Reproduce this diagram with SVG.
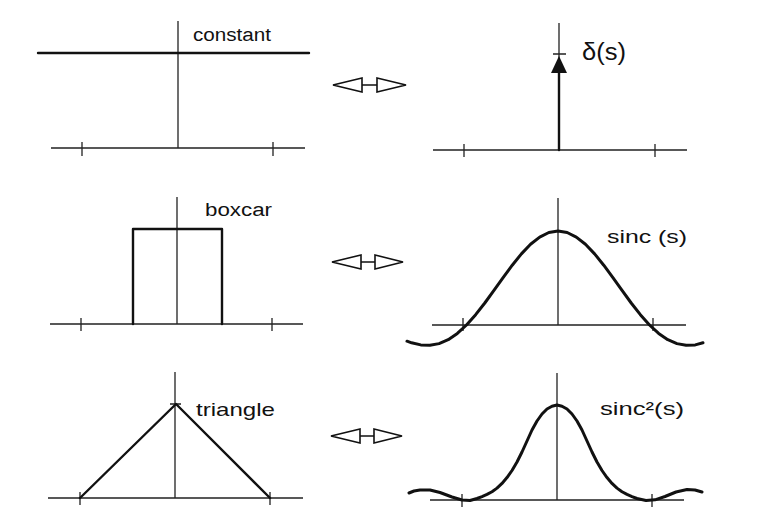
<svg xmlns="http://www.w3.org/2000/svg" width="768" height="526" viewBox="0 0 768 526">
<style>
.ax{stroke:#222;stroke-width:1.3;fill:none}
.fn{stroke:#111;stroke-width:2.4;fill:none;stroke-linejoin:round;stroke-linecap:round}
.crv{stroke:#111;stroke-width:3;fill:none;stroke-linejoin:round;stroke-linecap:round}
.lbl{font-family:"Liberation Sans",Arial,sans-serif;font-size:18px;fill:#111}
.dbl{stroke:#111;stroke-width:1.6;fill:#fff;stroke-linejoin:miter}
</style>
<rect width="768" height="526" fill="#fff"/>

<g id="constant">
<path class="ax" d="M178 21V148M51 148H305M82 142V156M273 142V156"/>
<path class="fn" d="M38 53H309"/>
<text class="lbl" x="193" y="41" textLength="78" lengthAdjust="spacingAndGlyphs">constant</text>
</g>

<g id="delta">
<path class="ax" d="M559 23V150M433 150H687M464 144V157M655 144V157M553 54H566"/>
<path class="fn" d="M559 150V72"/>
<polygon points="559,56 551,73 567,73" fill="#111"/>
<text class="lbl" x="582" y="60" style="font-size:23px" textLength="44" lengthAdjust="spacingAndGlyphs">δ(s)</text>
</g>

<g id="boxcar">
<path class="ax" d="M177 197V324M50 324H303M81 318V331M272 318V331"/>
<path class="fn" d="M133 324V229H222V324"/>
<text class="lbl" x="205" y="216" textLength="67" lengthAdjust="spacingAndGlyphs">boxcar</text>
</g>

<g id="sinc">
<path class="ax" d="M558 198V325M432 325H686M463 318V331M653 318V331"/>
<polyline class="crv" points="407,341.2 411.6,342.8 420.75,344.9 429.9,345.3 439.05,343.6 448.2,339.7 457.35,333.4 466.5,325 475.65,314.7 484.8,303 493.95,290.4 503.1,277.6 512.25,265.2 521.4,253.9 530.55,244.3 539.7,237.1 548.85,232.5 558,231 567.15,232.5 576.3,237.1 585.45,244.3 594.6,253.9 603.75,265.2 612.9,277.6 622.05,290.4 631.2,303 640.35,314.7 649.5,325 658.65,333.4 667.8,339.7 676.95,343.6 686.1,345.3 695.25,344.9 703,342.8"/>
<text class="lbl" x="607" y="243" style="font-size:19px" textLength="80" lengthAdjust="spacingAndGlyphs">sinc (s)</text>
</g>

<g id="triangle">
<path class="ax" d="M175 372V498M48 498H303M80 492V505M270 492V505M170 404H181"/>
<path class="fn" d="M80 498L176 404L270 498"/>
<text class="lbl" x="196" y="416" style="font-size:19px" textLength="79" lengthAdjust="spacingAndGlyphs">triangle</text>
</g>

<g id="sinc2">
<path class="ax" d="M557 373V500M430 500H684M462 494V507M652 494V507"/>
<polyline class="crv" points="409,493 414,491 420,490 430,490 440,492.5 452,497 462,500 470,500.5 477,498.5 482,496.6 487,494.4 492,491.7 497,488.1 502,483.4 507,477.6 512,470.5 517,462 522,452 527,441 532,430 537,421 542,414 547,409 552,406.2 557,405 562,406.2 567,409 572,414 577,421 582,430 587,441 592,452 597,462 602,470.5 607,477.6 612,483.4 617,488.1 622,491.7 627,494.4 632,496.6 637,498.5 646,500.5 655,499.8 665,496.5 676,492 687,489.5 695,490 702,492"/>
<text class="lbl" x="600" y="415" style="font-size:19px" textLength="84" lengthAdjust="spacingAndGlyphs">sinc²(s)</text>
</g>

<g id="connectors">
<path class="dbl" d="M333 85L362 78V92ZM362 85H377M406 85L377 78V92Z"/>
<path class="dbl" d="M332 262L361 255V269ZM361 262H375M403 262L375 255V269Z"/>
<path class="dbl" d="M331 436L360 429V443ZM360 436H374M402 436L374 429V443Z"/>
</g>
</svg>
